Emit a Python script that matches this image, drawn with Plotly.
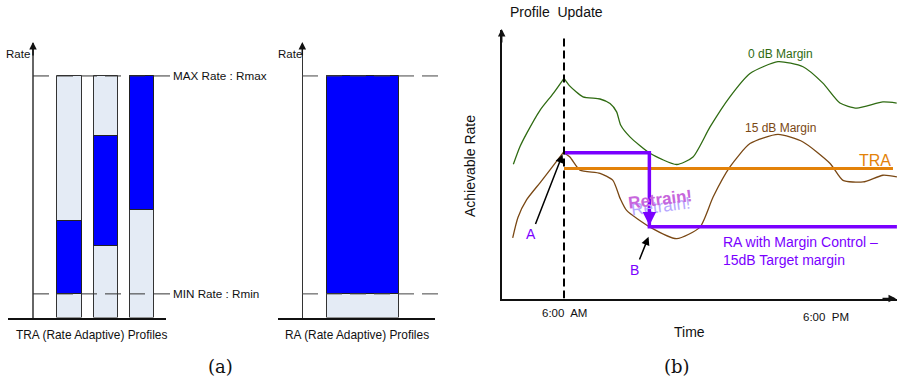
import plotly.graph_objects as go

W, H = 897, 381

# ---------------- data: panel (a) ----------------
tra_profiles = ["P1", "P2", "P3"]
tra_low = [8.6, 26.0, 39.3]
tra_high = [35.0, 66.0, 88.0]
ra_profiles = ["RA"]
ra_low = [8.6]
ra_high = [88.0]
R_MIN = 8.6
R_MAX = 88.0

# ---------------- data: panel (b) ----------------
green_t = [3.68, 3.98, 4.29, 4.90, 5.51, 6.0, 6.27, 6.87, 7.65, 8.11, 8.41, 8.60, 9.02, 9.94,
           11.16, 11.91, 12.69, 13.60, 14.52, 15.80, 16.95, 17.86, 18.64, 19.41, 20.61, 21.24]
green_r = [50.0, 56.5, 61.5, 70.1, 76.4, 82.0, 79.1, 75.1, 74.3, 72.6, 69.5, 64.5, 60.2, 54.1,
           49.9, 52.7, 63.9, 75.1, 83.8, 88.2, 86.3, 80.2, 72.8, 70.9, 73.2, 72.8]
GREEN_PEAK = 5
brown_t = [3.65, 3.89, 4.29, 4.90, 5.36, 5.97, 6.27, 6.73, 7.65, 8.24, 8.57, 8.87, 9.94, 11.16,
           12.23, 12.83, 13.60, 14.52, 15.80, 16.95, 18.19, 18.78, 19.70, 20.61, 21.25]
brown_r = [22.6, 30.2, 36.8, 43.1, 47.9, 54.4, 52.7, 47.8, 46.6, 44.0, 37.3, 32.8, 26.6, 22.3,
           26.6, 37.8, 49.0, 57.7, 61.1, 58.3, 50.3, 44.0, 43.4, 45.9, 45.3]
BROWN_PEAK = 5
UPDATE_T = 6.0
END_T = 21.25
TRA_RATE = 48.4
TRA_END = 21.07
RA_HIGH = 54.3
RA_LOW = 26.7
RETRAIN_T = 9.91
tick_times = [6.0, 18.0]
tick_labels = ["6:00  AM", "6:00  PM"]

PURPLE = "#7a00ff"
GREEN = "#2f6b12"
BROWN = "#7a4814"
ORANGE = "#e38209"
LIGHT = "#e4ebf5"
BLUE = "#0000ff"
FONT = "Liberation Sans, Arial, sans-serif"


def px(x):
    return x / W


def py(y):
    return 1 - y / H


fig = go.Figure()

# panel (a) left: TRA bars
fig.add_trace(go.Bar(x=tra_profiles, y=[R_MAX] * len(tra_profiles), base=0, width=0.67,
                     marker=dict(color=LIGHT, line=dict(color="#333", width=1)),
                     xaxis="x", yaxis="y", showlegend=False))
fig.add_trace(go.Bar(x=tra_profiles, y=[h - l for h, l in zip(tra_high, tra_low)], base=tra_low,
                     width=0.67, marker=dict(color=BLUE, line=dict(color="#222", width=1)),
                     xaxis="x", yaxis="y", showlegend=False))
# panel (a) right: RA bar
fig.add_trace(go.Bar(x=ra_profiles, y=[R_MAX], base=0, width=0.8,
                     marker=dict(color=LIGHT, line=dict(color="#333", width=1)),
                     xaxis="x2", yaxis="y2", showlegend=False))
fig.add_trace(go.Bar(x=ra_profiles, y=[h - l for h, l in zip(ra_high, ra_low)], base=ra_low,
                     width=0.8, marker=dict(color=BLUE, line=dict(color="#222", width=1)),
                     xaxis="x2", yaxis="y2", showlegend=False))

# panel (b) curves
for t, r, c, k in [(green_t, green_r, GREEN, GREEN_PEAK), (brown_t, brown_r, BROWN, BROWN_PEAK)]:
    fig.add_trace(go.Scatter(x=t[:k + 1], y=r[:k + 1], mode="lines", line=dict(color=c, width=1.3, shape="spline", smoothing=0.6),
                             xaxis="x3", yaxis="y3", showlegend=False))
    fig.add_trace(go.Scatter(x=t[k:], y=r[k:], mode="lines", line=dict(color=c, width=1.3, shape="spline", smoothing=0.6),
                             xaxis="x3", yaxis="y3", showlegend=False))
fig.add_trace(go.Scatter(x=[UPDATE_T, TRA_END], y=[TRA_RATE, TRA_RATE], mode="lines",
                         line=dict(color=ORANGE, width=3), xaxis="x3", yaxis="y3", showlegend=False))
fig.add_trace(go.Scatter(x=[UPDATE_T, RETRAIN_T, RETRAIN_T, END_T], y=[RA_HIGH, RA_HIGH, RA_LOW, RA_LOW],
                         mode="lines", line=dict(color=PURPLE, width=3.5), xaxis="x3", yaxis="y3", showlegend=False))

noax = dict(showgrid=False, zeroline=False, showticklabels=False, ticks="")
fig.update_layout(
    width=W, height=H, margin=dict(l=0, r=0, t=0, b=0),
    paper_bgcolor="white", plot_bgcolor="rgba(0,0,0,0)",
    barmode="overlay", bargap=0,
    xaxis=dict(domain=[px(8), px(166)], range=[-1.701, 2.669], anchor="y", showline=True,
               linecolor="#111", linewidth=1.5, **noax),
    yaxis=dict(domain=[py(317.5), py(43)], range=[0, 100], anchor="free", position=px(33),
               showline=True, linecolor="#666", linewidth=2, **noax),
    xaxis2=dict(domain=[px(278), px(435)], range=[-0.937, 0.793], anchor="y2", showline=True,
                linecolor="#111", linewidth=1.5, **noax),
    yaxis2=dict(domain=[py(317.5), py(43)], range=[0, 100], anchor="free", position=px(302.3),
                showline=True, linecolor="#333", linewidth=1.2, **noax),
    xaxis3=dict(domain=[px(501.7), 1.0], range=[3.146, 3.146 + (897 - 501.7) / 21.83], anchor="y3",
                showline=True, linecolor="#111", linewidth=1.8, **noax),
    yaxis3=dict(domain=[py(298.5), py(30)], range=[0, 100], anchor="x3", showline=True,
                linecolor="#111", linewidth=1.8, **noax),
    font=dict(family=FONT, color="#111"),
)

shapes = []
# MAX / MIN dashed lines panel (a)
for lvl in [R_MAX, R_MIN]:
    shapes.append(dict(type="line", xref="x domain", yref="y", x0=(33 - 8) / 158, x1=(154 - 8) / 158, y0=lvl, y1=lvl,
                       line=dict(color="#333", width=1, dash="16px,8px")))
    shapes.append(dict(type="line", xref="x domain", yref="y", x0=(154 - 8) / 158, x1=(170 - 8) / 158, y0=lvl, y1=lvl,
                       line=dict(color="#333", width=1)))
    shapes.append(dict(type="line", xref="x2 domain", yref="y2", x0=(302 - 278) / 157, x1=(439 - 278) / 157, y0=lvl, y1=lvl,
                       line=dict(color="#444", width=1, dash="16px,8px")))
# profile update dashed vertical line
shapes.append(dict(type="line", xref="x3", yref="y3", x0=UPDATE_T, x1=UPDATE_T, y0=0, y1=97,
                   line=dict(color="#000", width=2, dash="8px,4px")))
fig.update_layout(shapes=shapes)

ann = []


def txt(text, x, y, size=11, color="#111", xanchor="center", **kw):
    ann.append(dict(text=text, x=px(x), y=py(y), xref="paper", yref="paper", showarrow=False,
                    xanchor=xanchor, yanchor="middle", font=dict(size=size, color=color, family=kw.pop("family", FONT)), **kw))


# axis arrowheads
for x, y, ax, ay in [(33, 42, 0, 15), (302.3, 42, 0, 15), (501.7, 29, 0, 15), (896, 298.5, -15, 0)]:
    ann.append(dict(x=px(x), y=py(y), xref="paper", yref="paper", ax=ax, ay=ay, showarrow=True,
                    arrowhead=2, arrowsize=1, arrowwidth=1.5, arrowcolor="#111", text=""))

txt("Rate", 18, 54, 11.5)
txt("Rate", 290, 54, 11.5)
txt("MAX Rate : Rmax", 171, 76, 11.7, xanchor="left")
txt("MIN Rate : Rmin", 171, 293.5, 11.7, xanchor="left")
txt("TRA (Rate Adaptive) Profiles", 91, 335, 11.9)
txt("RA (Rate Adaptive) Profiles", 357, 335, 11.9)
txt("(a)", 220, 366, 18, family="DejaVu Serif, Liberation Serif, serif")
txt("(b)", 677, 366, 18, family="DejaVu Serif, Liberation Serif, serif")
txt("Profile  Update", 556, 12.5, 14)
txt("Achievable Rate", 470, 166, 14, textangle=-90)
txt("Time", 689, 331.5, 14)
for t, lab, yy in zip(tick_times, tick_labels, [312.7, 317]):
    ann.append(dict(text=lab, x=t, y=py(yy), xref="x3", yref="paper", showarrow=False, xanchor="center",
                    yanchor="middle", font=dict(size=11.5, color="#111", family=FONT)))
txt("0 dB Margin", 780, 53.5, 12, color=GREEN)
txt("15 dB Margin", 780, 128.5, 12, color=BROWN)
txt("TRA", 893, 160.5, 16, color=ORANGE, xanchor="right")
txt("RA with Margin Control \u2013", 720.5, 241.5, 14, color=PURPLE, xanchor="left")
txt("15dB Target margin", 720.5, 259.5, 14, color=PURPLE, xanchor="left")
txt("A", 531, 233.5, 14, color=PURPLE)
txt("B", 634.5, 269.5, 14, color=PURPLE)
# Retrain! word art (shadow + main)
txt("Retrain!", 661, 206, 17, color="#b7a6ff", textangle=-7,
    family="Liberation Sans Narrow, Arial Narrow, sans-serif")
txt("<b>Retrain!</b>", 660, 199, 17, color="#c766dc", textangle=-7,
    family="Liberation Sans Narrow, Arial Narrow, sans-serif")

# arrows A and B, and retrain arrow
ann.append(dict(x=5.95, y=54.0, xref="x3", yref="y3", ax=-28, ay=72, showarrow=True, arrowhead=2,
                arrowsize=1.1, arrowwidth=1.5, arrowcolor="#000", text="", standoff=1))
ann.append(dict(x=9.89, y=23.3, xref="x3", yref="y3", ax=-10, ay=25, showarrow=True, arrowhead=2,
                arrowsize=1.1, arrowwidth=1.5, arrowcolor="#000", text="", standoff=1))
ann.append(dict(x=RETRAIN_T, y=RA_LOW + 0.5, xref="x3", yref="y3", ax=0, ay=-18, showarrow=True, arrowhead=2,
                arrowsize=0.9, arrowwidth=3, arrowcolor=PURPLE, text="", standoff=0))
fig.update_layout(annotations=ann)

fig.write_html("out.html", config={"displayModeBar": False},
               post_script="document.body.style.margin='0';document.body.style.padding='0';")
